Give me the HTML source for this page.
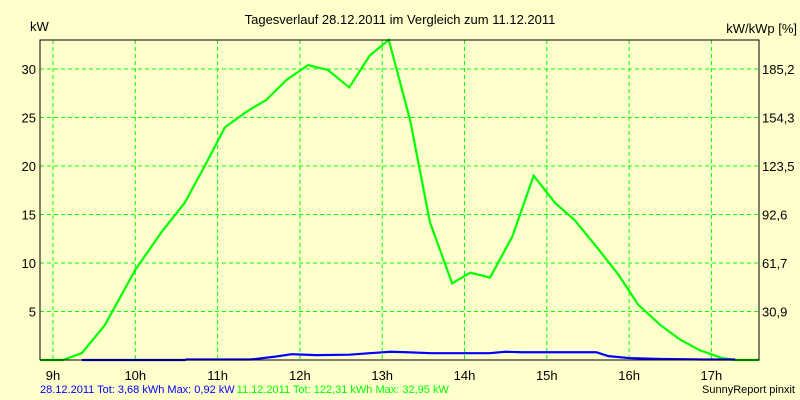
<!DOCTYPE html>
<html><head><meta charset="utf-8"><style>
body{margin:0;background:#ffffcc;}
svg{display:block;font-family:"Liberation Sans",sans-serif;}
</style></head><body>
<svg id="chart" width="800" height="400">
<rect x="0" y="0" width="800" height="400" fill="#ffffcc"/>
<text x="400" y="24" font-size="13" text-anchor="middle">Tagesverlauf 28.12.2011 im Vergleich zum 11.12.2011</text>
<text x="30" y="31" font-size="13">kW</text>
<text x="797" y="33" font-size="13" text-anchor="end">kW/kWp [%]</text>
<g id="grid"></g>
<g id="series"></g>
<g id="axes"></g>
<text x="40" y="393" font-size="11"><tspan fill="#0000ff">28.12.2011 Tot: 3,68 kWh Max: 0,92 kW</tspan><tspan fill="#00ff00" dx="2">11.12.2011 Tot: 122,31 kWh Max: 32,95 kW</tspan></text>
<text x="795" y="393" font-size="11" text-anchor="end">SunnyReport pinxit</text>
</svg>
<script>
const hourTicks = [9,10,11,12,13,14,15,16,17];
const kwTicks = [5,10,15,20,25,30];
const pctLabels = ["30,9","61,7","92,6","123,5","154,3","185,2"];
const greenTimes = [8.84,9.12,9.35,9.63,10.0,10.32,10.6,10.85,11.09,11.37,11.59,11.84,12.1,12.34,12.6,12.85,13.08,13.34,13.58,13.85,14.07,14.31,14.58,14.84,15.1,15.34,15.61,15.87,16.11,16.38,16.62,16.86,17.13,17.29,17.58];
const greenKw = [0,0,0.7,3.6,9.3,13.2,16.2,20.1,24.0,25.7,26.8,28.9,30.4,29.9,28.1,31.4,33.0,24.7,14.2,7.9,9.0,8.5,12.7,19.0,16.2,14.4,11.6,8.8,5.7,3.6,2.1,1.0,0.2,0,0];
const blueTimes = [9.35,10.6,10.62,11.4,11.5,11.7,11.9,12.2,12.6,12.85,13.1,13.3,13.6,14.3,14.5,14.7,15.6,15.75,16.0,16.4,16.9,17.29];
const blueKw = [0,0,0.05,0.05,0.15,0.35,0.6,0.5,0.55,0.7,0.85,0.8,0.7,0.7,0.85,0.8,0.8,0.4,0.2,0.1,0.05,0.05];
const NS="http://www.w3.org/2000/svg";
const X0=40,X1=759,Y0=40,Y1=360;
const xs=h=>53+(h-9)*82.3;
const ys=v=>360-v*9.7;
function mk(t,a,p){const e=document.createElementNS(NS,t);for(const k in a)e.setAttribute(k,a[k]);p.appendChild(e);return e;}
const grid=document.getElementById('grid'),axes=document.getElementById('axes'),ser=document.getElementById('series');
hourTicks.forEach(h=>{
 const l=mk('line',{x1:xs(h),x2:xs(h),y1:Y0,y2:Y1,stroke:'#00ff00','stroke-dasharray':'4,3'},grid);
 
 
 const t=mk('text',{x:xs(h),y:380,'font-size':13,'text-anchor':'middle'},axes);t.textContent=h+'h';
 
 
});
kwTicks.forEach((v,i)=>{
 const l=mk('line',{x1:X0,x2:X1,y1:ys(v),y2:ys(v),stroke:'#00ff00','stroke-dasharray':'4,3'},grid);
 
 
 const t=mk('text',{x:36,y:ys(v)+5,'font-size':13,'text-anchor':'end'},axes);t.textContent=v;
 
 
 const r=mk('text',{x:762,y:ys(v)+5,'font-size':13},axes);r.textContent=pctLabels[i];
 
 
});
const frame=mk('path',{d:`M${X0} ${Y1}V${Y0}H${X1}V${Y1}H${X0}`,fill:'none',stroke:'#000','stroke-width':1},axes);


const gp=mk('polyline',{points:greenTimes.map((t,i)=>xs(t)+','+ys(greenKw[i])).join(' '),fill:'none',stroke:'#00ff00','stroke-width':2.2},ser);


const bp=mk('polyline',{points:blueTimes.map((t,i)=>xs(t)+','+ys(blueKw[i])).join(' '),fill:'none',stroke:'#0000ff','stroke-width':2.2},ser);


</script>
</body></html>
